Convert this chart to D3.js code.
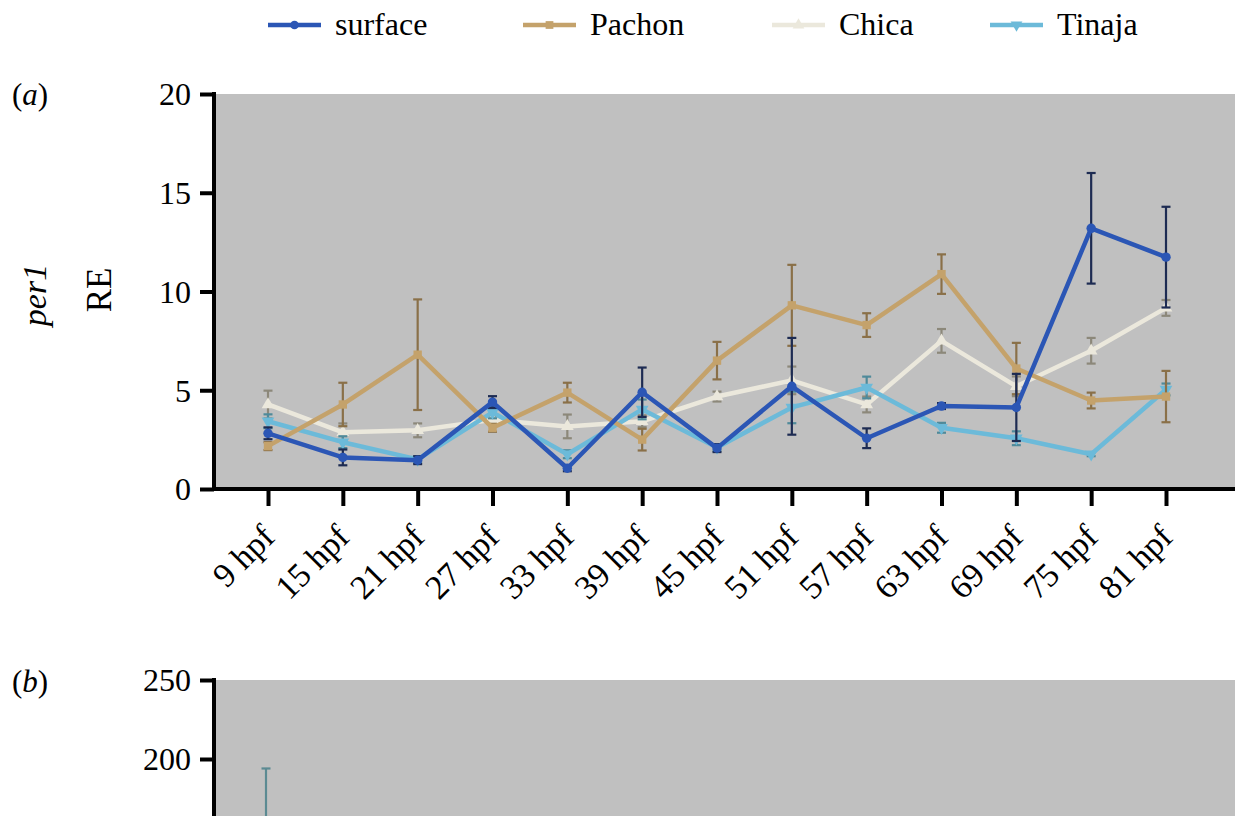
<!DOCTYPE html>
<html><head><meta charset="utf-8">
<script src="https://cdn.jsdelivr.net/npm/d3@7/dist/d3.min.js"></script>
<style>
body{margin:0;background:#fff}
svg{display:block}
svg text{font-family:"Liberation Serif","Times New Roman",Times,Tinos,"DejaVu Serif","Noto Serif",serif !important;fill:#000}
</style>
</head><body>
<svg id="c" width="1235" height="816"></svg>
<script>
// ---------- data ----------
const categories = ["9 hpf","15 hpf","21 hpf","27 hpf","33 hpf","39 hpf","45 hpf","51 hpf","57 hpf","63 hpf","69 hpf","75 hpf","81 hpf"];
const seriesNames = ["surface","Pachon","Chica","Tinaja"];
const surfaceMean = [2.82,1.6,1.46,4.4,1.05,4.9,2.07,5.2,2.57,4.2,4.13,13.2,11.74];
const surfaceErr  = [0.3,0.4,0.2,0.3,0.15,1.25,0.2,2.45,0.5,0.15,1.7,2.8,2.55];
const pachonMean  = [2.17,4.28,6.8,3.1,4.88,2.5,6.5,9.3,8.3,10.88,6.1,4.48,4.68];
const pachonErr   = [0.2,1.1,2.8,0.2,0.5,0.55,0.95,2.05,0.6,1.0,1.3,0.4,1.3];
const chicaMean   = [4.28,2.87,2.97,3.5,3.17,3.43,4.68,5.5,4.28,7.5,5.2,7.0,9.17];
const chicaErr    = [0.7,0.45,0.35,0.2,0.6,0.3,0.25,0.7,0.4,0.6,0.5,0.65,0.4];
const tinajaMean  = [3.43,2.37,1.5,3.88,1.76,4.03,2.1,4.13,5.14,3.1,2.57,1.76,5.04];
const tinajaErr   = [0.35,0.3,0.15,0.3,0.2,0.5,0.15,0.8,0.55,0.25,0.35,0.1,0.3];
const yTicksA = [0,5,10,15,20];
const yTicksB = [200,250];
// panel (b): only the top of one error bar is visible in the picture
const bCategories = ["9 hpf"];
const bMean = [120];
const bErr  = [74];

// ---------- styles ----------
const colors    = {surface:"#2b56b5", Pachon:"#c4a26b", Chica:"#ebe8dc", Tinaja:"#6cbad9"};
const errColors = {surface:"#1d2b52", Pachon:"#8a7048", Chica:"#8c887a", Tinaja:"#4f8a9a"};
const symbols   = {surface:d3.symbolCircle, Pachon:d3.symbolSquare, Chica:d3.symbolTriangle, Tinaja:d3.symbolTriangle};
const rotations = {surface:0, Pachon:0, Chica:0, Tinaja:180};

const series = [
  {name:"Chica",   mean:chicaMean,   err:chicaErr},
  {name:"Tinaja",  mean:tinajaMean,  err:tinajaErr},
  {name:"Pachon",  mean:pachonMean,  err:pachonErr},
  {name:"surface", mean:surfaceMean, err:surfaceErr}
];

const FONT = '"Liberation Serif","Times New Roman",Times,Tinos,"DejaVu Serif",serif';
const svg = d3.select("#c");
const W = 1235;
const axisX = 214;

const x = d3.scalePoint().domain(categories).range([268,1166]);
const yA = d3.scaleLinear().domain([0,20]).range([489,94]);
const yB = d3.scaleLinear().domain([0,250]).range([1075,680]);

// ---------- legend ----------
const legendX = [268,523,772,990];
const lg = svg.append("g");
seriesNames.forEach((n,i)=>{
  const g = lg.append("g").attr("transform",`translate(${legendX[i]},25)`);
  g.append("line").attr("x1",0).attr("x2",53).attr("y1",0).attr("y2",0)
    .attr("stroke",colors[n]).attr("stroke-width",4.5);
  g.append("path").attr("d",d3.symbol().type(symbols[n]).size(60)())
    .attr("transform",`translate(26.5,0) rotate(${rotations[n]})`).attr("fill",colors[n]);
  g.append("text").attr("x",67).attr("y",10).attr("font-size",32).attr("font-family",FONT).text(n);
});

// ---------- panel (a) ----------
const pa = svg.append("g");
pa.append("rect").attr("x",axisX+2).attr("y",yA(20)).attr("width",W-axisX-2).attr("height",yA(0)-yA(20)).attr("fill","#c0c0c0");

series.forEach(s=>{
  const g = pa.append("g");
  const ec = errColors[s.name];
  categories.forEach((c,i)=>{
    const cx = x(c), top = yA(s.mean[i]+s.err[i]), bot = yA(s.mean[i]-s.err[i]);
    g.append("line").attr("x1",cx).attr("x2",cx).attr("y1",top).attr("y2",bot).attr("stroke",ec).attr("stroke-width",2.2);
    g.append("line").attr("x1",cx-4.5).attr("x2",cx+4.5).attr("y1",top).attr("y2",top).attr("stroke",ec).attr("stroke-width",2.2);
    g.append("line").attr("x1",cx-4.5).attr("x2",cx+4.5).attr("y1",bot).attr("y2",bot).attr("stroke",ec).attr("stroke-width",2.2);
  });
  const line = d3.line().x((d,i)=>x(categories[i])).y(d=>yA(d));
  g.append("path").datum(s.mean).attr("d",line).attr("fill","none")
    .attr("stroke",colors[s.name]).attr("stroke-width",4.5).attr("stroke-linejoin","round");
  g.selectAll(".m").data(s.mean).enter().append("path")
    .attr("d",d3.symbol().type(symbols[s.name]).size(70)())
    .attr("transform",(d,i)=>`translate(${x(categories[i])},${yA(d)}) rotate(${rotations[s.name]})`)
    .attr("fill",colors[s.name]);
});

// y axis
const ya = pa.append("g").attr("transform",`translate(${axisX},0)`)
  .call(d3.axisLeft(yA).tickValues(yTicksA).tickSize(14).tickSizeOuter(0).tickPadding(9));
ya.attr("font-family",FONT);
ya.select(".domain").remove();
ya.selectAll(".tick line").attr("stroke","#000").attr("stroke-width",4);
ya.selectAll(".tick text").attr("font-size",32).attr("font-family",FONT).attr("dy","0.34em");
pa.append("line").attr("x1",axisX).attr("x2",axisX).attr("y1",yA(20)-2).attr("y2",yA(0)+2).attr("stroke","#000").attr("stroke-width",4);

// x axis
const xa = pa.append("g").attr("transform",`translate(0,${yA(0)})`)
  .call(d3.axisBottom(x).tickSize(17).tickSizeOuter(0));
xa.attr("font-family",FONT);
xa.select(".domain").remove();
xa.selectAll(".tick line").attr("stroke","#000").attr("stroke-width",4);
xa.selectAll(".tick text").attr("font-size",34).attr("font-family",FONT)
  .attr("x",0).attr("y",0).attr("dy",0).attr("text-anchor","end")
  .attr("transform","translate(8,50) rotate(-45)");
pa.append("line").attr("x1",axisX-2).attr("x2",W).attr("y1",yA(0)).attr("y2",yA(0)).attr("stroke","#000").attr("stroke-width",4);

// labels
const la = svg.append("text").attr("x",12).attr("y",105).attr("font-size",31).attr("font-family",FONT);
la.append("tspan").text("(");
la.append("tspan").attr("font-style","italic").text("a");
la.append("tspan").text(")");
svg.append("text").attr("transform","translate(46,295) rotate(-90)").attr("text-anchor","middle")
  .attr("font-size",34).attr("font-style","italic").attr("font-family",FONT).text("per1");
svg.append("text").attr("transform","translate(111,290) rotate(-90)").attr("text-anchor","middle")
  .attr("font-size",35).attr("font-family",FONT).text("RE");

// ---------- panel (b) ----------
const pb = svg.append("g");
pb.append("rect").attr("x",axisX+2).attr("y",yB(250)).attr("width",W-axisX-2).attr("height",yB(0)-yB(250)).attr("fill","#c0c0c0");
bCategories.forEach((c,i)=>{
  const cx = x(c)-2, top = yB(bMean[i]+bErr[i]), bot = yB(bMean[i]-bErr[i]);
  pb.append("line").attr("x1",cx).attr("x2",cx).attr("y1",top).attr("y2",bot).attr("stroke","#5b8a92").attr("stroke-width",2.2);
  pb.append("line").attr("x1",cx-4.5).attr("x2",cx+4.5).attr("y1",top).attr("y2",top).attr("stroke","#5b8a92").attr("stroke-width",2.2);
});
const yb = pb.append("g").attr("transform",`translate(${axisX},0)`)
  .call(d3.axisLeft(yB).tickValues(yTicksB).tickSize(14).tickSizeOuter(0).tickPadding(9));
yb.attr("font-family",FONT);
yb.select(".domain").remove();
yb.selectAll(".tick line").attr("stroke","#000").attr("stroke-width",4);
yb.selectAll(".tick text").attr("font-size",32).attr("font-family",FONT).attr("dy","0.34em");
pb.append("line").attr("x1",axisX).attr("x2",axisX).attr("y1",yB(250)-2).attr("y2",yB(0)).attr("stroke","#000").attr("stroke-width",4);

const lb = svg.append("text").attr("x",12).attr("y",692).attr("font-size",31).attr("font-family",FONT);
lb.append("tspan").text("(");
lb.append("tspan").attr("font-style","italic").text("b");
lb.append("tspan").text(")");
</script>
</body></html>
